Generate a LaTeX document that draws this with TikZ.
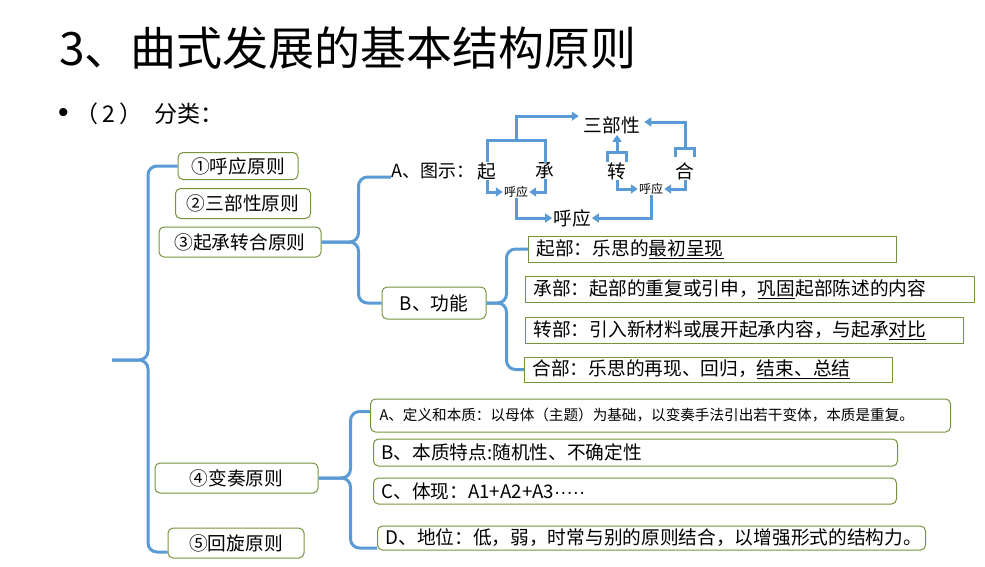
\documentclass[tikz,border=0pt]{standalone}
\usepackage{fontspec}
\setmainfont{Noto Sans CJK SC}
\newfontfamily\latinfont{Liberation Sans}
\usetikzlibrary{arrows.meta,calc}
\definecolor{lineblue}{RGB}{91,155,213}
\definecolor{boxgreen}{RGB}{119,147,60}
\tikzset{
    brace/.style={lineblue, line width=3pt, rounded corners=9pt},
    bar/.style={lineblue, line width=3pt},
    link/.style={lineblue, line width=3pt, -{Triangle[length=7pt,width=9pt]}, shorten >=1pt},
    rulebox/.style={draw=boxgreen, line width=1pt, rounded corners=5pt, inner sep=0pt, font=\fontsize{18.7}{22}\selectfont},
    partbox/.style={draw=boxgreen, line width=1pt, anchor=west, align=left, inner ysep=0pt, inner xsep=8pt, font=\fontsize{18.7}{22}\selectfont},
    varbox/.style={partbox, rounded corners=5pt},
    word/.style={inner sep=0pt, font=\fontsize{18.7}{22}\selectfont},
    small/.style={inner sep=0pt, font=\fontsize{12}{14}\selectfont}
}
\begin{document}
\begin{tikzpicture}[x=1pt, y=-1pt]
    \useasboundingbox (0,0) rectangle (985,566);

    % title lines
    \node[anchor=west, inner sep=0pt, font=\fontsize{46}{50}\selectfont] (title) at (59,48) {3、曲式发展的基本结构原则};
    \node[anchor=west, inner sep=0pt, font=\fontsize{23}{26}\selectfont] (sub) at (58,114) {{\latinfont\fontsize{30}{30}\selectfont •}\hspace{7pt}（\hspace{4pt}2\hspace{4pt}）\hspace{12pt}分类：};

    % the five principles
    \node[rulebox, minimum width=120pt, minimum height=27pt] (p1) at (238,166) {①呼应原则};
    \node[rulebox, minimum width=135pt, minimum height=30pt] (p2) at (243,203.5) {②三部性原则};
    \node[rulebox, minimum width=162pt, minimum height=30pt] (p3) at (240,242) {③起承转合原则};
    \node[rulebox, minimum width=163pt, minimum height=30pt] (p4) at (236.5,478) {④变奏原则};
    \node[rulebox, minimum width=136pt, minimum height=30pt] (p5) at (236,543) {⑤回旋原则};

    \coordinate (lbmid) at (148,360);
    \coordinate (lb) at (112,360);
    \draw[brace] (p1.west) -| (lbmid) -- (lb);
    \draw[brace] ([yshift=-9pt]p5.west) -| (lbmid) -- (lb);

    % branch of principle 3
    \node[word, anchor=west, font=\fontsize{18}{20}\selectfont] (tA) at (391,171) {A、图示：};
    \node[rulebox, minimum width=104pt, minimum height=32pt] (fb) at (434,303) {B、功能};

    \coordinate (b3) at ([xshift=37pt]p3.east);
    \draw[brace] ([yshift=-6pt]tA.west) -| (b3) -- (p3.east);
    \draw[brace] (fb.west) -| (b3) -- (p3.east);

    % little scheme
    \node[word] (qi) at (487,171) {起};
    \node[word] (cheng) at (545,171) {承};
    \node[word] (zhuan) at (617,171) {转};
    \node[word] (he) at (685,171) {合};
    \node[word] (sbx) at (612,125) {三部性};
    \node[small] (hy1) at (516,192) {呼应};
    \node[small] (hy2) at (651,189) {呼应};
    \node[word] (hy) at (572,218) {呼应};

    \coordinate (qc) at ($(qi.north)!0.5!(cheng.north)+(0,-22)$);
    \draw[bar] (qi.north) |- (qc) -| (cheng.north);
    \draw[link, shorten >=5pt] (qc) |- (sbx.north west);
    \draw[bar] (zhuan.north west) -- ++(0,-10) -| (zhuan.north east);
    \draw[link] (zhuan.north) ++(0,-10) -- (sbx.south -| zhuan.north);
    \draw[bar] ([yshift=5pt]he.north west) -- ++(0,-9) -| ([yshift=5pt]he.north east);
    \draw[link, shorten >=4pt] ([yshift=14pt]he.north) |- ([yshift=3pt]sbx.east);

    \draw[link] (qi.south) |- (hy1.west);
    \draw[link] (cheng.south) |- (hy1.east);
    \draw[link] (hy1.south) |- (hy.west);
    \draw[link] (zhuan.south) |- (hy2.west);
    \draw[link] (he.south) |- (hy2.east);
    \draw[link] (hy2.south) |- (hy.east);

    % functions
    \node[partbox, text width=352pt, minimum height=26pt] (q1) at (528,249) {起部：乐思的\underline{最初呈现}};
    \node[partbox, text width=433pt, minimum height=26pt] (q2) at (525,289) {承部：起部的重复或引申，\underline{巩固}起部陈述的内容};
    \node[partbox, text width=422pt, minimum height=26pt] (q3) at (525,330) {转部：引入新材料或展开起承内容，与起承\underline{对比}};
    \node[partbox, text width=352pt, minimum height=25pt] (q4) at (524,369.5) {合部：乐思的再现、回归，\underline{结束、总结}};

    \coordinate (bb) at ([xshift=20pt]fb.east);
    \draw[brace] (q1.west) -| (bb) -- (fb.east);
    \draw[brace] (q4.west) -| (bb) -- (fb.east);

    % branch of principle 4
    \node[varbox, inner xsep=9pt, text width=562pt, minimum height=33pt, font=\fontsize{14.6}{17}\selectfont] (vA) at (370,415.5) {A、定义和本质：以母体（主题）为基础，以变奏手法引出若干变体，本质是重复。};
    \node[varbox, text width=508pt, minimum height=27pt] (vB) at (373,452.5) {B、本质特点:随机性、不确定性};
    \node[varbox, text width=507pt, minimum height=26pt] (vC) at (373,491) {C、体现：A1+A2+A3{\latinfont ·····}};
    \node[varbox, text width=532pt, minimum height=24pt] (vD) at (377,538) {D、地位：低，弱，时常与别的原则结合，以增强形式的结构力。};

    \coordinate (b4) at ([xshift=32pt]p4.east);
    \draw[brace] ([yshift=4pt]vA.west) -| (b4) -- (p4.east);
    \draw[brace] ([yshift=-10pt]vD.west) -| (b4) -- (p4.east);
\end{tikzpicture}
\end{document}
